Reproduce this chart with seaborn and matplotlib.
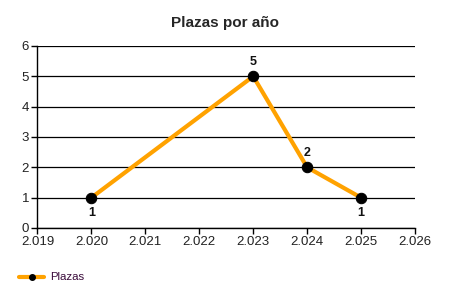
import matplotlib
matplotlib.use("Agg")
import matplotlib.pyplot as plt
import seaborn as sns
import pandas as pd
from matplotlib.ticker import FuncFormatter, MultipleLocator
from matplotlib.lines import Line2D

years = [2020, 2023, 2024, 2025]
plazas = [1, 5, 2, 1]
label_pos = ["below", "above", "above", "below"]
series_name = "Plazas"
title = "Plazas por año"

sns.set_style("white")
plt.rcParams['font.family'] = ['Liberation Sans', 'DejaVu Sans']

df = pd.DataFrame({"year": years, "value": plazas})

fig = plt.figure(figsize=(4.5, 3), dpi=100)
ax = fig.add_axes([0.0833, 0.24, 0.8389, 0.6067])

sns.lineplot(data=df, x="year", y="value", ax=ax, color="#FFA200", linewidth=3,
             marker="o", markersize=7.5, markerfacecolor="black", markeredgecolor="black",
             legend=False, zorder=3)

for x, y, p in zip(years, plazas, label_pos):
    off = 10 if p == "above" else -11
    ax.annotate(str(y), (x, y), xytext=(0, off), textcoords="offset points",
                ha="center", va="center", fontsize=9, fontweight="bold", color="#111111")

ax.set_xlim(2019, 2026)
ax.set_ylim(0, 6)
ax.xaxis.set_major_locator(MultipleLocator(1))
ax.yaxis.set_major_locator(MultipleLocator(1))
ax.xaxis.set_major_formatter(FuncFormatter(lambda v, p: f"{v:,.0f}".replace(",", ".")))
ax.set_xlabel("")
ax.set_ylabel("")
ax.grid(axis="y", color="black", linewidth=0.9)
ax.set_axisbelow(True)
for s in ["top", "right"]:
    ax.spines[s].set_visible(False)
for s in ["left", "bottom"]:
    ax.spines[s].set_color("black")
    ax.spines[s].set_linewidth(1)
ax.tick_params(axis="both", which="major", length=4, width=1, color="black",
               labelsize=9.5, labelcolor="#222222", bottom=True, left=True, pad=2)

fig.text(0.5, 0.925, title, ha="center", va="center", fontsize=11, fontweight="bold")

handle = Line2D([0], [0], color="#FFA200", linewidth=3, marker="o", markersize=4,
                markerfacecolor="black", markeredgecolor="black")
fig.legend([handle], [series_name], loc="center left", bbox_to_anchor=(0.02, 0.075),
           frameon=False, fontsize=8.2, handlelength=2.2, handletextpad=0.5,
           labelcolor="#3a0a3a")

fig.savefig("out.png", dpi=100)
